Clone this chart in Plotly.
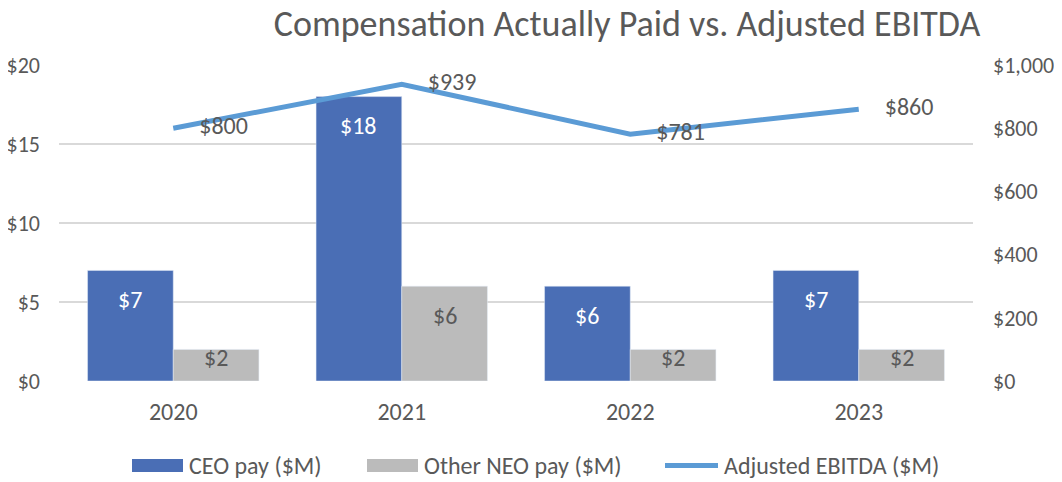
import plotly.graph_objects as go

years = ["2020", "2021", "2022", "2023"]
ceo_pay = [7, 18, 6, 7]
neo_pay = [2, 6, 2, 2]
ebitda = [800, 939, 781, 860]
left_ticks = [0, 5, 10, 15, 20]
right_ticks = [0, 200, 400, 600, 800, 1000]
series_names = ["CEO pay ($M)", "Other NEO pay ($M)", "Adjusted EBITDA ($M)"]

FONT = "Carlito, Lato, sans-serif"
GRAY = "#595959"
CEO_C = "#4A6EB5"
NEO_C = "#BBBBBB"
LINE_C = "#5B9BD5"
FS = 24
TFS = 22

# page is offset by the body margin of 8px
OFF = 8
W, H = 1062 - OFF, 482 - OFF
ML, MT, MR, MB = 59 - OFF, 65 - OFF, 89, 101
PW, PH = W - ML - MR, H - MT - MB


def px(xp):
    return (xp - OFF - ML) / PW


def py(yp):
    return (H - MB - (yp - OFF)) / PH


fig = go.Figure()
fig.add_trace(go.Bar(x=years, y=ceo_pay, name=series_names[0], marker_color=CEO_C, showlegend=False))
fig.add_trace(go.Bar(x=years, y=neo_pay, name=series_names[1], marker_color=NEO_C, showlegend=False))
fig.add_trace(go.Scatter(
    x=years, y=ebitda, name=series_names[2], yaxis="y2", mode="lines+markers+text",
    line=dict(color=LINE_C, width=5), marker=dict(size=40, opacity=0), showlegend=False,
    text=[f"${v}" for v in ebitda], textposition="middle right",
    textfont=dict(color=GRAY, size=FS, family=FONT),
))

annotations = []
half_bar = PW / len(years) * 0.75 / 4
for vals, col, sh in ((ceo_pay, "white", -half_bar), (neo_pay, GRAY, half_bar)):
    for i, v in enumerate(vals):
        annotations.append(dict(
            x=i, y=v, xref="x", yref="y", text=f"${v}", showarrow=False,
            xshift=sh, yshift=(-29 if v > 3 else -8), yanchor="middle",
            font=dict(color=col, size=FS, family=FONT),
        ))

# manual legend
shapes = []
leg_y = 465.5
shapes.append(dict(type="rect", xref="paper", yref="paper", x0=px(132), x1=px(183),
                   y0=py(leg_y + 6.5), y1=py(leg_y - 6.5), fillcolor=CEO_C, line=dict(width=0)))
shapes.append(dict(type="rect", xref="paper", yref="paper", x0=px(367), x1=px(418),
                   y0=py(leg_y + 6.5), y1=py(leg_y - 6.5), fillcolor=NEO_C, line=dict(width=0)))
shapes.append(dict(type="line", xref="paper", yref="paper", x0=px(665), x1=px(718),
                   y0=py(leg_y), y1=py(leg_y), line=dict(color=LINE_C, width=5)))
for name, xs in zip(series_names, (187, 422, 722)):
    annotations.append(dict(x=px(xs), y=py(leg_y), xref="paper", yref="paper", text=name,
                            showarrow=False, xanchor="left", yanchor="middle",
                            font=dict(color=GRAY, size=FS, family=FONT)))

fig.update_layout(
    width=W, height=H,
    margin=dict(l=ML, r=MR, t=MT, b=MB, autoexpand=False),
    paper_bgcolor="white", plot_bgcolor="white",
    font=dict(family=FONT, color=GRAY, size=FS),
    title=dict(text="Compensation Actually Paid vs. Adjusted EBITDA", x=(627 - OFF) / W, xanchor="center",
               y=1 - (23 - OFF) / H, yanchor="middle", font=dict(size=36, color=GRAY, family=FONT)),
    barmode="group", bargap=0.25, bargroupgap=0,
    xaxis=dict(type="category", range=[-0.5, len(years) - 0.5], showgrid=False, showline=False,
               ticks="", tickfont=dict(size=FS, color=GRAY), ticklabelstandoff=14, automargin=False),
    yaxis=dict(range=[0, 20], tickvals=left_ticks, ticktext=[f"${v}" for v in left_ticks],
               gridcolor="#D9D9D9", gridwidth=1.5, zeroline=False, showline=False,
               tickfont=dict(size=TFS, color=GRAY), ticklabelstandoff=18, automargin=False),
    yaxis2=dict(range=[0, 1000], overlaying="y", side="right", tickvals=right_ticks,
                ticktext=[f"${v:,}" for v in right_ticks], showgrid=False, zeroline=False,
                showline=False, tickfont=dict(size=TFS, color=GRAY), ticklabelstandoff=19,
                automargin=False),
    showlegend=False,
    annotations=annotations,
    shapes=shapes,
)

fig.write_html("out.html")
